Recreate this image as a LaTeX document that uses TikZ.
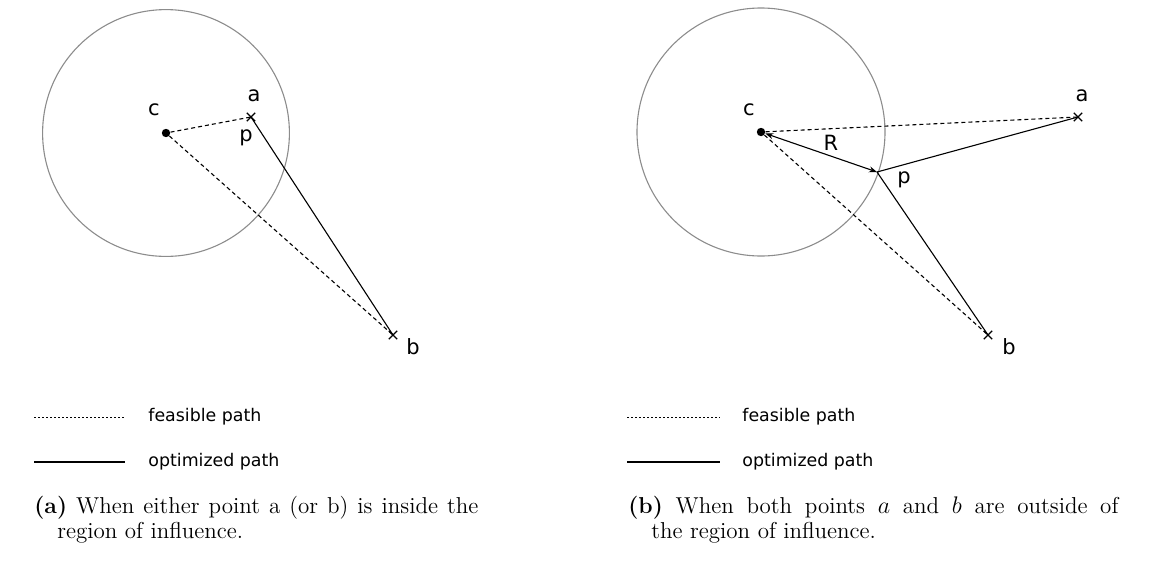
\documentclass[tikz,border=0pt]{standalone}
\usepackage{fontspec}
\newfontfamily\dejavu{DejaVu Sans}
\usetikzlibrary{arrows.meta,shapes.misc}
\begin{document}
\begin{tikzpicture}[x=0.5pt,y=-0.5pt,
  region/.style={draw=black!45, line width=0.55pt},
  feasible/.style={line width=0.55pt, dash pattern=on 2pt off 1.5pt},
  optimized/.style={line width=0.55pt},
  legdot/.style={line width=0.5pt, dash pattern=on 0.9pt off 1.1pt},
  legsolid/.style={line width=0.55pt},
  centre/.style={circle, fill=black, minimum size=4.2pt, inner sep=0pt},
  endpt/.style={cross out, draw, line width=0.55pt, minimum size=3.6pt, inner sep=0pt},
  lab/.style={font=\dejavu\fontsize{10.5}{12}\selectfont, inner sep=0pt},
  legtext/.style={font=\dejavu\fontsize{8.7}{10}\selectfont, anchor=west, inner sep=0pt},
  capt/.style={font=\fontsize{11.5}{14}\selectfont, anchor=base west, inner sep=0pt},
  arr/.style={line width=0.55pt, {Stealth[length=4pt,width=3pt]}-{Stealth[length=4pt,width=3pt]}}
]
\useasboundingbox (0,0) rectangle (1151,563);

% ---------------- panel (a) ----------------
\node[centre] (c1) at (166,133) {};
\draw[region] (c1.center) circle (61.7pt);
\node[endpt] (a1) at (251,117) {};
\node[endpt] (b1) at (393,335) {};
\node[lab] (lc1) at (154,110) {c};
\node[lab] (la1) at (254,96) {a};
\node[lab] (lp1) at (246,138) {p};
\node[lab] (lb1) at (413,347) {b};
\draw[feasible] (c1) -- (a1.center);
\draw[feasible] (c1) -- (b1.center);
\draw[optimized] (a1.center) -- (b1.center);

% legend (a)
\coordinate (fa1) at (34,417);  \coordinate (fa2) at (125,417);
\coordinate (oa1) at (34,462);  \coordinate (oa2) at (125,462);
\draw[legdot] (fa1) -- (fa2);
\draw[legsolid] (oa1) -- (oa2);
\node[legtext] (tfa) at (148,417) {feasible path};
\node[legtext] (toa) at (148,462) {optimized path};

% caption (a)
\node[capt] (ca1) at (34,513) {\makebox[222pt][s]{\textbf{(a)} When either point a (or b) is inside the}};
\node[capt] (ca2) at (57,538) {region of influence.};

% ---------------- panel (b) ----------------
\node[centre] (c2) at (761,132) {};
\draw[region] (c2.center) circle (62pt);
\node[endpt] (a2) at (1078,117) {};
\node[endpt] (b2) at (988,335) {};
\coordinate (p2) at (877,172);
\node[lab] (lc2) at (749,110) {c};
\node[lab] (la2) at (1082,96) {a};
\node[lab] (lp2) at (904,180) {p};
\node[lab] (lR2) at (831,143) {R};
\node[lab] (lb2) at (1009,347) {b};
\draw[feasible] (c2) -- (a2.center);
\draw[feasible] (c2) -- (b2.center);
\draw[optimized] (a2.center) -- (p2);
\draw[optimized] (p2) -- (b2.center);
\draw[arr] (c2) -- (p2);

% legend (b)
\coordinate (fb1) at (627,417);  \coordinate (fb2) at (720,417);
\coordinate (ob1) at (627,462);  \coordinate (ob2) at (720,462);
\draw[legdot] (fb1) -- (fb2);
\draw[legsolid] (ob1) -- (ob2);
\node[legtext] (tfb) at (742,417) {feasible path};
\node[legtext] (tob) at (742,462) {optimized path};

% caption (b)
\node[capt] (cb1) at (628,513) {\makebox[245pt][s]{\textbf{(b)} When both points $a$ and $b$ are outside of}};
\node[capt] (cb2) at (651,538) {the region of influence.};
\end{tikzpicture}
\end{document}
